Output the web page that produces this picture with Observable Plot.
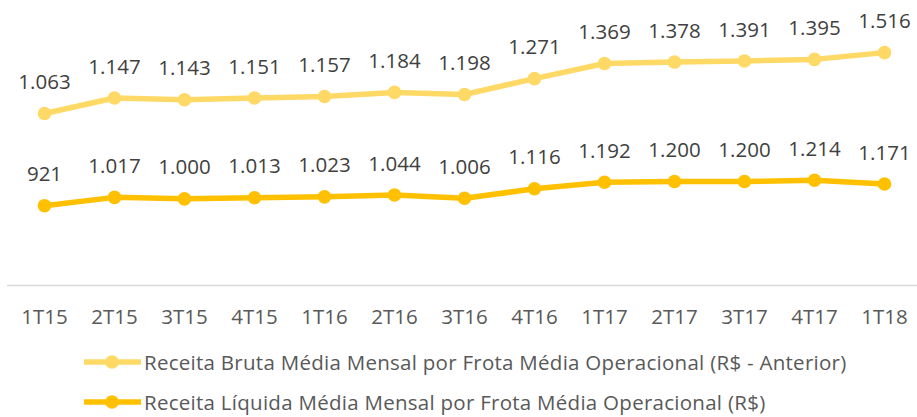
<!DOCTYPE html>
<html>
<head>
<meta charset="utf-8">
<script src="https://cdn.jsdelivr.net/npm/d3@7"></script>
<script src="https://cdn.jsdelivr.net/npm/@observablehq/plot@0.6"></script>
<style>
  html, body { margin: 0; padding: 0; background: #fff; overflow: hidden; }
  #wrap { width: 917px; height: 417px; position: relative; font-family: "Open Sans", sans-serif; overflow: hidden; }
  .leg { position: absolute; left: 84px; display: flex; align-items: center; height: 22px; color: #595959; font-size: 20.5px; letter-spacing: 0.27px; white-space: nowrap; line-height: 22px; }
  .leg svg { display: block; margin-right: 3px; }
</style>
</head>
<body>
<div id="wrap"></div>
<script>
const categories = ["1T15","2T15","3T15","4T15","1T16","2T16","3T16","4T16","1T17","2T17","3T17","4T17","1T18"];
const bruta = [1063,1147,1143,1151,1157,1184,1198,1271,1369,1378,1391,1395,1516];
const liquida = [921,1017,1000,1013,1023,1044,1006,1116,1192,1200,1200,1214,1171];
const seriesNames = [
  "Receita Bruta Média Mensal por Frota Média Operacional (R$ - Anterior)",
  "Receita Líquida Média Mensal por Frota Média Operacional (R$)"
];
const colors = ["#FFD966", "#FFC000"];

const rows = categories.map((c, i) => ({cat: c, bruta: bruta[i], liquida: liquida[i], top: bruta[i] + liquida[i]}));
const fmt = d3.formatLocale({decimal: ",", thousands: ".", grouping: [3], currency: ["R$", ""]}).format(",d");

const chart = Plot.plot({
  width: 917,
  height: 335,
  marginTop: 25,
  marginBottom: 50,
  marginLeft: 42,
  marginRight: 32,
  style: {fontFamily: "'Open Sans', sans-serif", background: "#fff", overflow: "visible"},
  x: {type: "point", domain: categories, padding: 0},
  y: {domain: [0, 3000], axis: null},
  marks: [
    Plot.ruleY([0], {stroke: "#D9D9D9", strokeWidth: 1.3, insetLeft: -35, insetRight: -33}),
    Plot.axisX({tickSize: 0, tickPadding: 24, fontSize: 20.5, fill: "#595959", label: null}),
    Plot.lineY(rows, {x: "cat", y: "liquida", stroke: colors[1], strokeWidth: 5.5}),
    Plot.dot(rows, {x: "cat", y: "liquida", fill: colors[1], r: 6.8}),
    Plot.lineY(rows, {x: "cat", y: "top", stroke: colors[0], strokeWidth: 5.5}),
    Plot.dot(rows, {x: "cat", y: "top", fill: colors[0], r: 6.8}),
    Plot.text(rows, {x: "cat", y: "liquida", text: d => fmt(d.liquida), dy: -31, fontSize: 20.5, fill: "#404040"}),
    Plot.text(rows, {x: "cat", y: "top", text: d => fmt(d.bruta), dy: -31, fontSize: 20.5, fill: "#404040"})
  ]
});
const wrap = document.getElementById("wrap");
wrap.appendChild(chart);

seriesNames.forEach((name, i) => {
  const div = document.createElement("div");
  div.className = "leg";
  div.style.top = (335 + 16 + i * 40) + "px";
  div.innerHTML = `<svg width="57" height="16"><line x1="1" x2="56" y1="8" y2="8" stroke="${colors[i]}" stroke-width="5.5" stroke-linecap="round"/><circle cx="28" cy="8" r="6.8" fill="${colors[i]}"/></svg><span>${name}</span>`;
  wrap.appendChild(div);
});
</script>
</body>
</html>
